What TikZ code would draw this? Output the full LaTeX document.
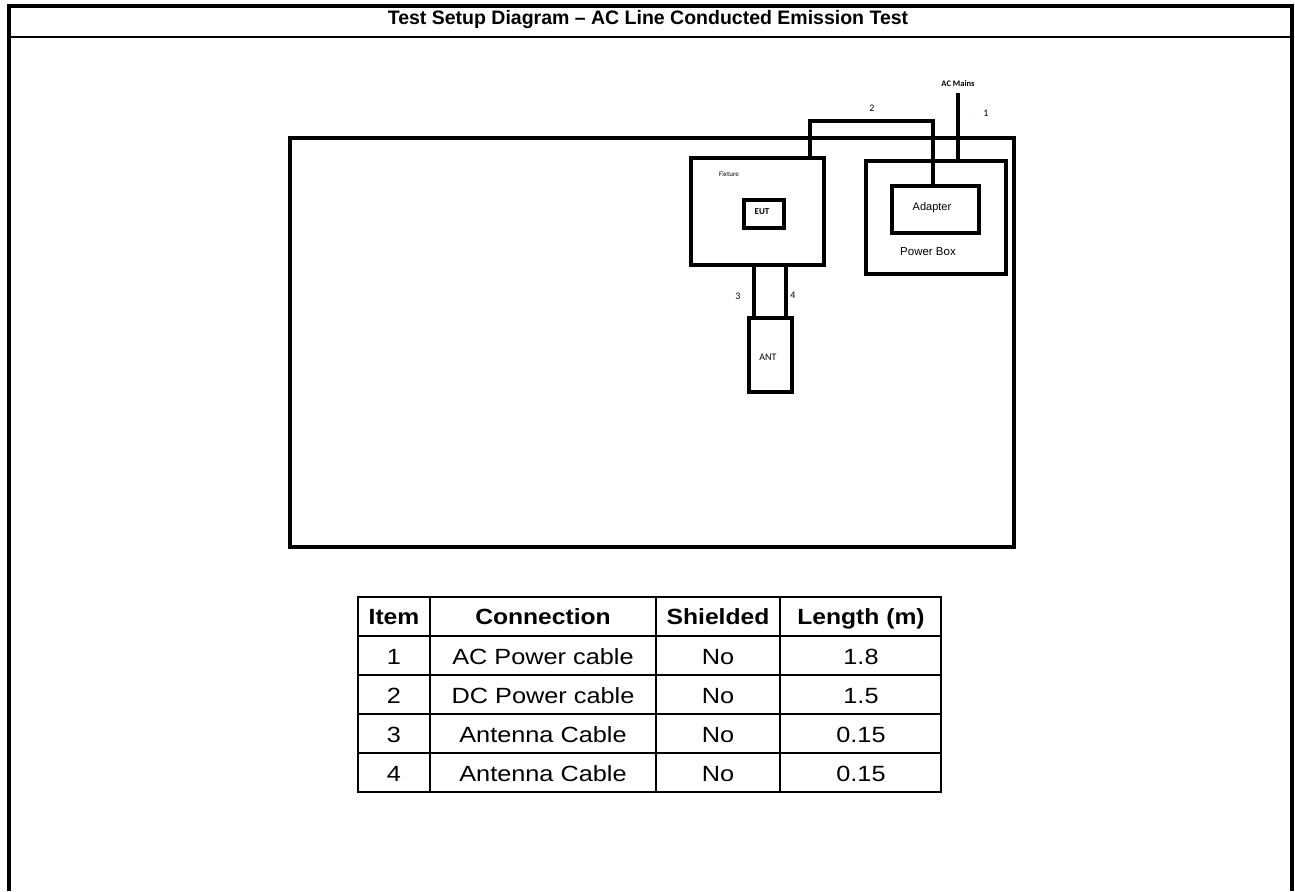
\documentclass[tikz,border=0pt]{standalone}
\usepackage{fontspec}
\setmainfont{Liberation Sans}
\newfontfamily\carlitofont{Carlito}
\begin{document}
\begin{tikzpicture}[x=1pt,y=-1pt,
  frame/.style={line width=3.5pt},
  box/.style={draw,line width=3.5pt,inner sep=0pt,anchor=north west},
  wire/.style={line width=3.5pt},
  lbl/.style={inner sep=0pt,font=\carlitofont\fontsize{10}{12}\selectfont},
  cell/.style={inner sep=0pt,anchor=base,xscale=1.15,font=\fontsize{22}{26}\selectfont},
  hcell/.style={inner sep=0pt,anchor=base,xscale=1.12,font=\bfseries\fontsize{22}{26}\selectfont},
  tline/.style={line width=2pt}]
\useasboundingbox (0,0) rectangle (1295,891);
% outer frame
\draw[frame] (9,891) -- (9,6) -- (1292,6) -- (1292,891);
\draw[line width=2.5pt] (9,37) -- (1292,37);
\node[inner sep=0pt,font=\bfseries\fontsize{19.5}{22}\selectfont] (title) at (648,20) {Test Setup Diagram – AC Line Conducted Emission Test};
% big rectangle
\node[box,minimum width=724pt,minimum height=409pt] (room) at (288,136) {};
% fixture
\node[box,minimum width=133pt,minimum height=107pt] (fixture) at (689,156) {};
\node[lbl,font=\carlitofont\fontsize{7}{8}\selectfont] (fixlbl) at (729,174) {Fixture};
\node[box,minimum width=40pt,minimum height=28pt] (eut) at (742,198) {};
\node[lbl,font=\carlitofont\bfseries\fontsize{9}{10}\selectfont] (eutlbl) at (762,212) {EUT};
% power box
\node[box,minimum width=140pt,minimum height=113pt] (pbox) at (864,159) {};
\node[box,minimum width=87pt,minimum height=47pt] (adapter) at (890,184) {};
\node[inner sep=0pt,font=\fontsize{11}{13}\selectfont] (adlbl) at (932,208) {Adapter};
\node[inner sep=0pt,font=\fontsize{11.5}{13}\selectfont] (pblbl) at (928,252) {Power Box};
% antenna
\node[box,minimum width=43pt,minimum height=74pt] (ant) at (747,316) {};
\node[lbl] (antlbl) at (768,357) {ANT};
% AC mains
\node[lbl,font=\carlitofont\bfseries\fontsize{8.5}{10}\selectfont] (acm) at (958,84) {AC Mains};
\coordinate (mains) at (958,93);
\coordinate (c2top) at (810,121);
% wires
\draw[wire] (mains) -- (pbox.north -| mains);
\draw[wire] (fixture.north -| c2top) -- (c2top) -| (adapter.north -| 933,0);
\draw[wire] (fixture.south -| 754,0) -- (ant.north -| 754,0);
\draw[wire] (fixture.south -| 786,0) -- (ant.north -| 786,0);
% wire labels
\node[lbl] (l1) at (986,113) {1};
\node[inner sep=0pt,text=gray!60,font=\fontsize{6}{7}\selectfont] (dot) at (973,116) {.};
\node[lbl] (l2) at (872,108) {2};
\node[lbl] (l3) at (738,296) {3};
\node[lbl] (l4) at (793,295) {4};
% table
\draw[line width=2.5pt] (358,597) rectangle (941,792);
\foreach \y in {636,675,714,753} \draw[tline] (358,\y) -- (941,\y);
\foreach \x in {430,656,780} \draw[tline] (\x,597) -- (\x,792);
\node[hcell] (h1) at (394,624) {Item};
\node[hcell] (h2) at (543,624) {Connection};
\node[hcell] (h3) at (718,624) {Shielded};
\node[hcell] (h4) at (861,624) {Length (m)};
\node[cell] (a1) at (394,664) {1};
\node[cell] (b1) at (543,664) {AC Power cable};
\node[cell] (c1) at (718,664) {No};
\node[cell] (d1) at (861,664) {1.8};
\node[cell] (a2) at (394,703) {2};
\node[cell] (b2) at (543,703) {DC Power cable};
\node[cell] (c2) at (718,703) {No};
\node[cell] (d2) at (861,703) {1.5};
\node[cell] (a3) at (394,742) {3};
\node[cell] (b3) at (543,742) {Antenna Cable};
\node[cell] (c3) at (718,742) {No};
\node[cell] (d3) at (861,742) {0.15};
\node[cell] (a4) at (394,781) {4};
\node[cell] (b4) at (543,781) {Antenna Cable};
\node[cell] (c4) at (718,781) {No};
\node[cell] (d4) at (861,781) {0.15};
\end{tikzpicture}
\end{document}
